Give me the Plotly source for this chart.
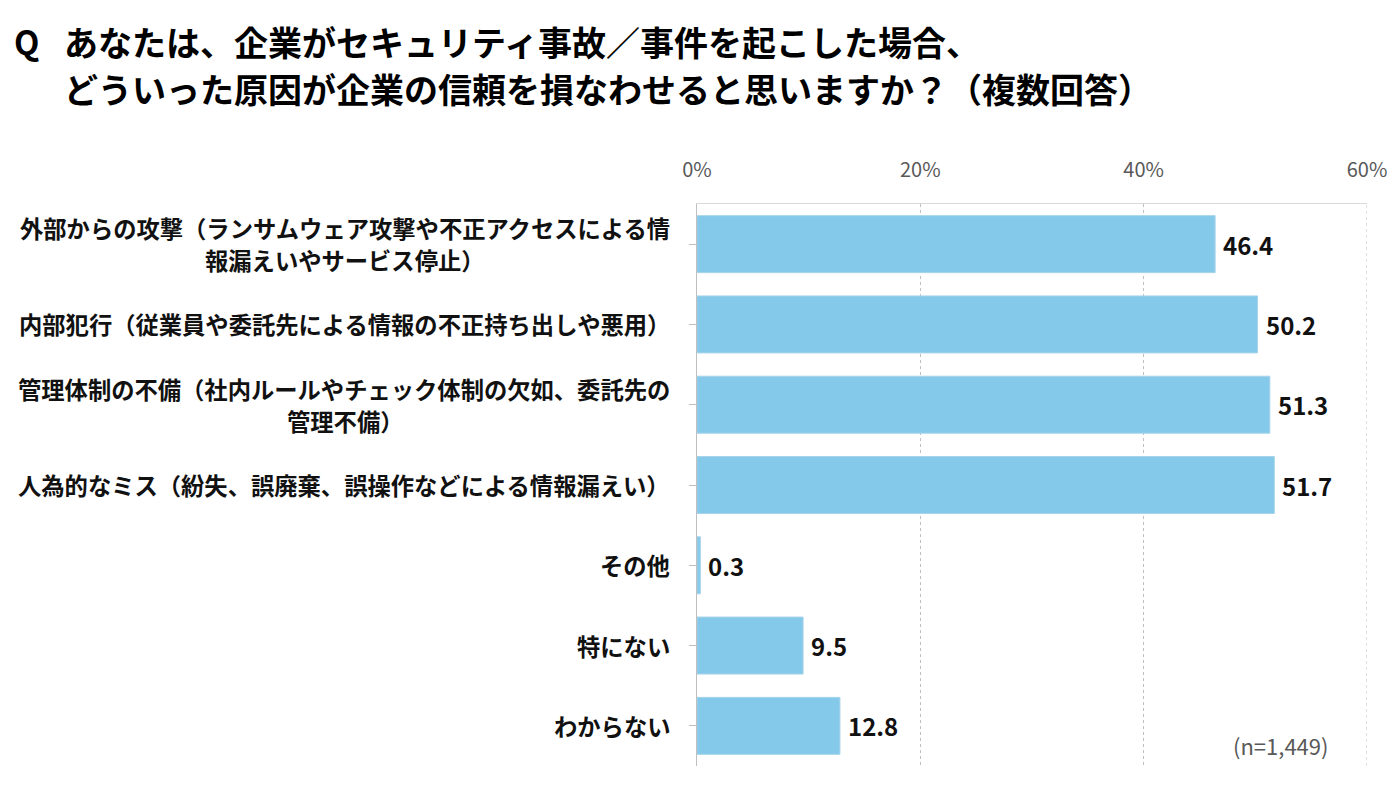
import plotly.graph_objects as go

categories = [
    ["外部からの攻撃（ランサムウェア攻撃や不正アクセスによる情", "報漏えいやサービス停止）"],
    ["内部犯行（従業員や委託先による情報の不正持ち出しや悪用）"],
    ["管理体制の不備（社内ルールやチェック体制の欠如、委託先の", "管理不備）"],
    ["人為的なミス（紛失、誤廃棄、誤操作などによる情報漏えい）"],
    ["その他"],
    ["特にない"],
    ["わからない"],
]
values = [46.4, 50.2, 51.3, 51.7, 0.3, 9.5, 12.8]
tick_vals = [0, 20, 40, 60]
tick_text = ["0%", "20%", "40%", "60%"]
title_lines = [
    "あなたは、企業がセキュリティ事故／事件を起こした場合、",
    "どういった原因が企業の信頼を損なわせると思いますか？（複数回答）",
]
note_text = "(n=1,449)"

FONT = "Noto Sans CJK JP"
W, H = 1400, 788
L, R, T, B = 697, 33, 204, 22
pw = W - L - R
ph = H - T - B

def px_to_paper_x(px):
    return (px - L) / pw

def px_to_paper_y(py):
    return (H - B - py) / ph

cat_ids = list(range(len(categories)))

fig = go.Figure()
fig.add_trace(go.Bar(
    x=values, y=cat_ids, orientation="h",
    marker=dict(color="#84C9E9", line=dict(color="#a8d4ea", width=1)),
    hoverinfo="skip",
))

LABEL_SIZE = 23.3
annotations = []
for i, (lines, v) in enumerate(zip(categories, values)):
    if len(lines) == 1:
        annotations.append(dict(
            x=px_to_paper_x(672), xref="paper", y=i, yref="y",
            text=lines[0], showarrow=False, xanchor="right", yanchor="middle",
            font=dict(family=FONT, size=LABEL_SIZE, color="#111111", weight="bold"),
        ))
    else:
        # first line right-aligned at the axis, second line centred under it
        annotations.append(dict(
            x=px_to_paper_x(672), xref="paper", y=i, yref="y", yshift=16,
            text=lines[0], showarrow=False, xanchor="right", yanchor="middle",
            font=dict(family=FONT, size=LABEL_SIZE, color="#111111", weight="bold"),
        ))
        annotations.append(dict(
            x=px_to_paper_x(345), xref="paper", y=i, yref="y", yshift=-16,
            text=lines[1], showarrow=False, xanchor="center", yanchor="middle",
            font=dict(family=FONT, size=LABEL_SIZE, color="#111111", weight="bold"),
        ))
    annotations.append(dict(
        x=v, xref="x", y=i, yref="y", text=f"{v}", showarrow=False,
        xanchor="left", yanchor="middle", xshift=6,
        font=dict(family=FONT, size=24, color="#111111", weight="bold"),
    ))

annotations.append(dict(
    x=px_to_paper_x(12), xref="paper", y=px_to_paper_y(41), yref="paper",
    text="Q", showarrow=False, xanchor="left", yanchor="middle",
    font=dict(family=FONT, size=33, color="#000000", weight="bold"),
))
for k, (line, ypx) in enumerate(zip(title_lines, [41, 88])):
    annotations.append(dict(
        x=px_to_paper_x(62), xref="paper", y=px_to_paper_y(ypx), yref="paper",
        text=line, showarrow=False, xanchor="left", yanchor="middle", align="left",
        font=dict(family=FONT, size=34, color="#000000", weight="bold"),
    ))
annotations.append(dict(
    x=px_to_paper_x(1280), xref="paper", y=px_to_paper_y(745), yref="paper",
    text=note_text, showarrow=False, xanchor="center", yanchor="middle",
    font=dict(family=FONT, size=22, color="#595959"),
))

fig.add_shape(type="line", xref="x", yref="paper", x0=60, x1=60, y0=0, y1=1,
              line=dict(color="#c0c0c0", width=1, dash="dot"), layer="below")

fig.update_layout(
    width=W, height=H,
    margin=dict(l=L, r=R, t=T, b=B),
    paper_bgcolor="white", plot_bgcolor="white",
    showlegend=False,
    bargap=0.29,
    annotations=annotations,
    xaxis=dict(
        side="top", range=[0, 60], tickvals=tick_vals, ticktext=tick_text,
        tickfont=dict(family=FONT, size=20, color="#595959"),
        showgrid=True, gridcolor="#c0c0c0", griddash="dot", gridwidth=1,
        showline=True, linecolor="#d9d9d9", linewidth=1,
        zeroline=False, ticks="", ticklabelstandoff=18, fixedrange=True,
    ),
    yaxis=dict(
        tickmode="array", tickvals=cat_ids, range=[len(categories) - 0.5, -0.5],
        showticklabels=False, showgrid=False, zeroline=False,
        showline=True, linecolor="#bfbfbf", linewidth=1,
        ticks="outside", tickson="boundaries", ticklen=7, tickcolor="#bfbfbf",
        fixedrange=True,
    ),
)

fig.write_html("out.html")
